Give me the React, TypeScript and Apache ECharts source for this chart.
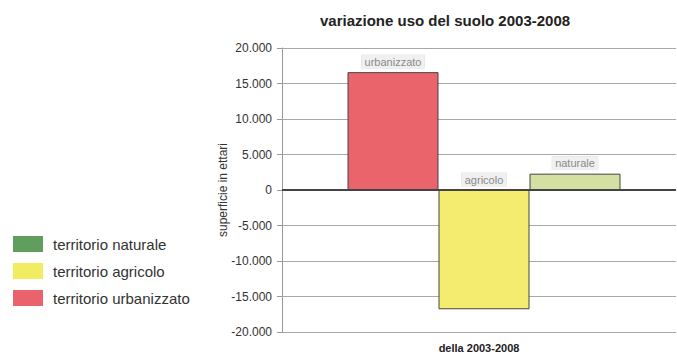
import React, { useEffect, useRef } from "react";
import * as echarts from "echarts";

const categories = ["della 2003-2008"];
const seriesNames = ["territorio naturale", "territorio agricolo", "territorio urbanizzato"];
const barLabels = ["urbanizzato", "agricolo", "naturale"];
const urbanizzato = [16600];
const agricolo = [-16800];
const naturale = [2300];
const yTicks = [-20000, -15000, -10000, -5000, 0, 5000, 10000, 15000, 20000];

const FONT = "Arial, 'Liberation Sans', sans-serif";

function fmt(v: number) {
  const s = Math.abs(v).toString().replace(/\B(?=(\d{3})+(?!\d))/g, ".");
  return (v < 0 ? "-" : "") + s;
}

const labelStyle = (text: string) => ({
  show: true,
  position: "top" as const,
  distance: 4,
  formatter: text,
  fontSize: 11,
  fontFamily: FONT,
  color: "#8a8a8a",
  backgroundColor: "#f0f0f0",
  borderColor: "#e2e2e2",
  borderWidth: 0.5,
  padding: [1, 3],
});

export default function App() {
  const ref = useRef<HTMLDivElement>(null);
  useEffect(() => {
    if (!ref.current) return;
    const chart = echarts.init(ref.current, null, { renderer: "svg" });
    chart.setOption({
      animation: false,
      backgroundColor: "#fff",
      title: {
        text: "variazione uso del suolo 2003-2008",
        left: 315,
        top: 8,
        textStyle: { fontSize: 15, fontWeight: "bold", color: "#222", fontFamily: FONT },
      },
      legend: {
        orient: "vertical",
        left: 13,
        top: 236,
        padding: 0,
        itemWidth: 30,
        itemHeight: 16,
        itemGap: 11,
        icon: "rect",
        textStyle: { fontSize: 15, color: "#333", fontFamily: FONT, padding: [0, 0, 0, 5] },
        data: [
          { name: seriesNames[0], itemStyle: { color: "#5f9e5c", borderWidth: 0 } },
          { name: seriesNames[1], itemStyle: { color: "#f2ec62", borderWidth: 0 } },
          { name: seriesNames[2], itemStyle: { color: "#e9626c", borderWidth: 0 } },
        ],
      },
      grid: { left: 282, right: 1, top: 48, bottom: 22, containLabel: false },
      xAxis: {
        type: "category",
        data: categories,
        axisLine: { show: false, onZero: false },
        axisTick: { show: false },
        axisLabel: { margin: 10, fontSize: 11, fontWeight: "bold", color: "#222", fontFamily: FONT },
      },
      yAxis: {
        type: "value",
        min: yTicks[0],
        max: yTicks[yTicks.length - 1],
        interval: 5000,
        name: "superficie in ettari",
        nameLocation: "middle",
        nameGap: 53,
        nameMoveOverlap: false,
        nameTextStyle: { fontSize: 12, color: "#333", fontFamily: FONT },
        axisLine: { show: true, lineStyle: { color: "#999" } },
        axisTick: { show: true, length: 5, lineStyle: { color: "#999" } },
        axisLabel: { fontSize: 12, color: "#333", margin: 10, fontFamily: FONT, formatter: (v: number) => fmt(v) },
        splitLine: { show: true, lineStyle: { color: "#a8a8a8", width: 1 } },
      },
      series: [
        {
          name: "_spacer",
          type: "bar",
          data: ["-"],
          barWidth: 10,
          barGap: "0%",
        },
        {
          name: seriesNames[2],
          type: "bar",
          data: urbanizzato,
          barWidth: 91,
          barGap: "0%",
          itemStyle: { color: "#ea646c", borderColor: "#444", borderWidth: 1 },
          label: labelStyle(barLabels[0]),
          markLine: {
            silent: true,
            symbol: "none",
            label: { show: false },
            lineStyle: { color: "#444", width: 2, type: "solid" },
            data: [{ yAxis: 0 }],
          },
        },
        {
          name: seriesNames[1],
          type: "bar",
          data: agricolo,
          barWidth: 91,
          barGap: "0%",
          itemStyle: { color: "#f3ec6e", borderColor: "#444", borderWidth: 1 },
          label: labelStyle(barLabels[1]),
        },
        {
          name: seriesNames[0],
          type: "bar",
          data: naturale,
          barWidth: 91,
          barGap: "0%",
          itemStyle: { color: "#d3e0a2", borderColor: "#444", borderWidth: 1 },
          label: labelStyle(barLabels[2]),
        },
      ],
    });
    return () => chart.dispose();
  }, []);
  return <div ref={ref} style={{ width: 677, height: 354, position: "absolute", left: 0, top: 0 }} />;
}
